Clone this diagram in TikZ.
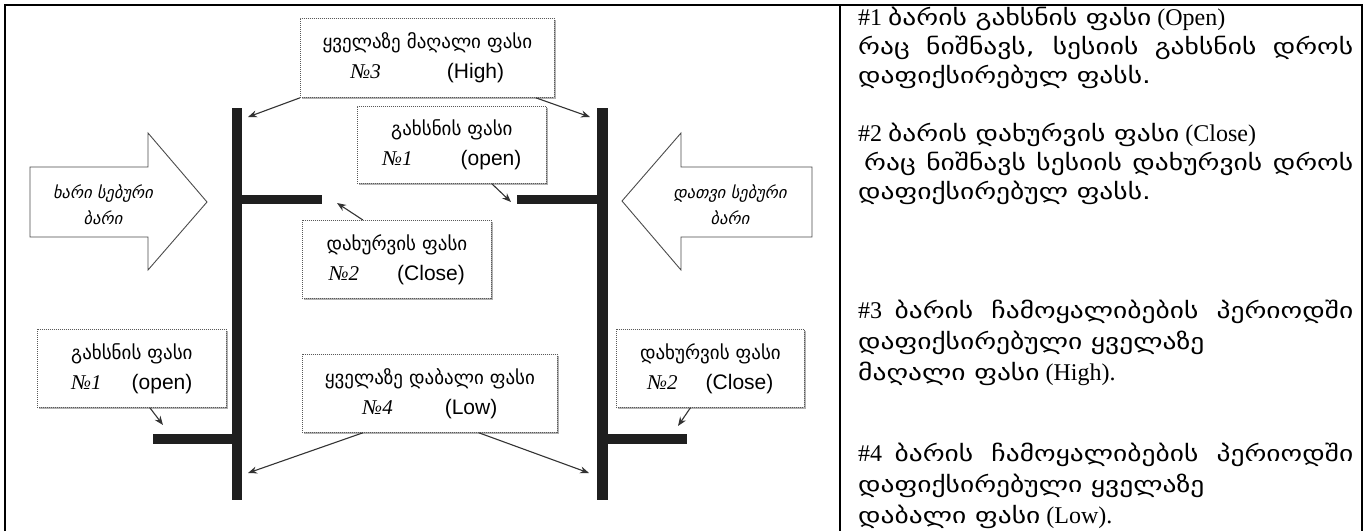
\documentclass[tikz,border=0pt]{standalone}
\usepackage{fontspec}
\setmainfont{Liberation Serif}
\newfontfamily\geo{DejaVu Sans}
\newfontfamily\geoW{DejaVu Sans}[FakeStretch=1.25]
\newfontfamily\arl{Liberation Sans}
\newfontfamily\tnr{Liberation Serif}
\usetikzlibrary{shadows,arrows.meta,calc}
\newcommand{\nr}[1]{{\tnr\itshape №#1}}
\newcommand{\jl}[1]{\makebox[495pt][s]{#1}}
\newcommand{\gw}[1]{{\geoW\fontsize{22}{28}\selectfont #1}}
\begin{document}
\begin{tikzpicture}[x=1pt,y=-1pt,
  callout/.style={draw=black!65, dash pattern=on 1pt off 1pt, line width=0.8pt, fill=white,
    drop shadow={shadow xshift=2pt,shadow yshift=-2pt,fill=black,opacity=0.3},
    anchor=north west, align=center, inner sep=0pt,
    font=\fontsize{19}{30}\selectfont},
  bar/.style={fill=black!88},
  ptr/.style={draw=black!80, line width=1.1pt, -{Stealth[length=9pt,width=7pt]}},
  block/.style={draw=black!70, line width=0.9pt, fill=white},
  btext/.style={align=center, inner sep=0pt, font=\geo\itshape\fontsize{16.5}{26}\selectfont},
  rline/.style={anchor=base west, inner sep=0pt, font=\fontsize{24}{28}\selectfont},
]
\useasboundingbox (0,0) rectangle (1366,531);
\fill[white] (0,0) rectangle (1366,531);
% table borders
\draw[line width=2.2pt] (5,531) -- (5,5) -- (1362,5) -- (1362,531);
\draw[line width=2pt] (840,5) -- (840,531);

% bars
\fill[bar] (232,108) rectangle (242,500);
\fill[bar] (242,195) rectangle (322,204);
\fill[bar] (153,434) rectangle (232,444);
\fill[bar] (597,108) rectangle (608,500);
\fill[bar] (517,195) rectangle (597,204);
\fill[bar] (608,434) rectangle (687,444);

% block arrows
\draw[block] (30,167) -- (148,167) -- (148,133) -- (207,202) -- (148,270) -- (148,237) -- (30,237) -- cycle;
\node[btext] (bull) at (103,205) {ხარი სებური\\ბარი};
\draw[block] (812,167) -- (681,167) -- (681,133) -- (622,201) -- (681,270) -- (681,237) -- (812,237) -- cycle;
\node[btext] (bear) at (730,205) {დათვი სებური\\ბარი};

% callouts
\node[callout, minimum width=254pt, minimum height=79pt] (high) at (300,18)
  {{\geo ყველაზე მაღალი ფასი}\\{\fontsize{21}{30}\selectfont\nr{3}\hspace{66pt}{\arl (High)}}};
\node[callout, minimum width=189pt, minimum height=77pt] (openA) at (357,106)
  {{\geo გახსნის ფასი}\\{\fontsize{21}{30}\selectfont\nr{1}\hspace{48pt}{\arl (open)}}};
\node[callout, minimum width=189pt, minimum height=78pt] (closeA) at (302,220)
  {{\geo დახურვის ფასი}\\{\fontsize{21}{30}\selectfont\nr{2}\hspace{38pt}{\arl (Close)}}};
\node[callout, minimum width=189pt, minimum height=78pt] (openB) at (37,329)
  {{\geo გახსნის ფასი}\\{\fontsize{21}{30}\selectfont\nr{1}\hspace{30pt}{\arl (open)}}};
\node[callout, minimum width=255pt, minimum height=78pt] (low) at (302,354)
  {{\geo ყველაზე დაბალი ფასი}\\{\fontsize{21}{30}\selectfont\nr{4}\hspace{52pt}{\arl (Low)}}};
\node[callout, minimum width=188pt, minimum height=78pt] (closeB) at (616,329)
  {{\geo დახურვის ფასი}\\{\fontsize{21}{30}\selectfont\nr{2}\hspace{28pt}{\arl (Close)}}};

% arrow tips
\coordinate (tHighL) at (248,117);
\coordinate (tHighR) at (590,117);
\coordinate (tOpenA) at (511,202);
\coordinate (tCloseA) at (337,203);
\coordinate (tOpenB) at (163,425);
\coordinate (tLowL) at (248,473);
\coordinate (tLowR) at (589,473);
\coordinate (tCloseB) at (678,426);

\draw[ptr] (high.south west) -- (tHighL);
\draw[ptr] ($(high.south east)+(-19,0)$) -- (tHighR);
\draw[ptr] ($(openA.south)+(40,0)$) -- (tOpenA);
\draw[ptr] ($(closeA.north)+(-34,0)$) -- (tCloseA);
\draw[ptr] ($(openB.south)+(18,0)$) -- (tOpenB);
\draw[ptr] ($(low.south)+(-67,0)$) -- (tLowL);
\draw[ptr] ($(low.south)+(49,0)$) -- (tLowR);
\draw[ptr] ($(closeB.south)+(-20,0)$) -- (tCloseB);

% right panel text
\node[rline] (r1) at (858,25) {\#1 \gw{ბარის გახსნის ფასი} (Open)};
\node[rline] (r2) at (858,54) {\jl{\gw{რაც ნიშნავს, სესიის გახსნის დროს}}};
\node[rline] (r3) at (858,83) {\gw{დაფიქსირებულ ფასს.}};
\node[rline] (r4) at (858,141) {\#2 \gw{ბარის დახურვის ფასი} (Close)};
\node[rline] (r5) at (858,170) {\jl{\gw{\hspace{6pt}რაც ნიშნავს სესიის დახურვის დროს}}};
\node[rline] (r6) at (858,199) {\gw{დაფიქსირებულ ფასს.}};
\node[rline] (r7) at (858,318) {\jl{\#3 \gw{ბარის ჩამოყალიბების პერიოდში}}};
\node[rline] (r8) at (858,349) {\gw{დაფიქსირებული ყველაზე}};
\node[rline] (r9) at (858,380) {\gw{მაღალი ფასი} (High).};
\node[rline] (r10) at (858,461) {\jl{\#4 \gw{ბარის ჩამოყალიბების პერიოდში}}};
\node[rline] (r11) at (858,492) {\gw{დაფიქსირებული ყველაზე}};
\node[rline] (r12) at (858,523) {\gw{დაბალი ფასი} (Low).};
\end{tikzpicture}
\end{document}
